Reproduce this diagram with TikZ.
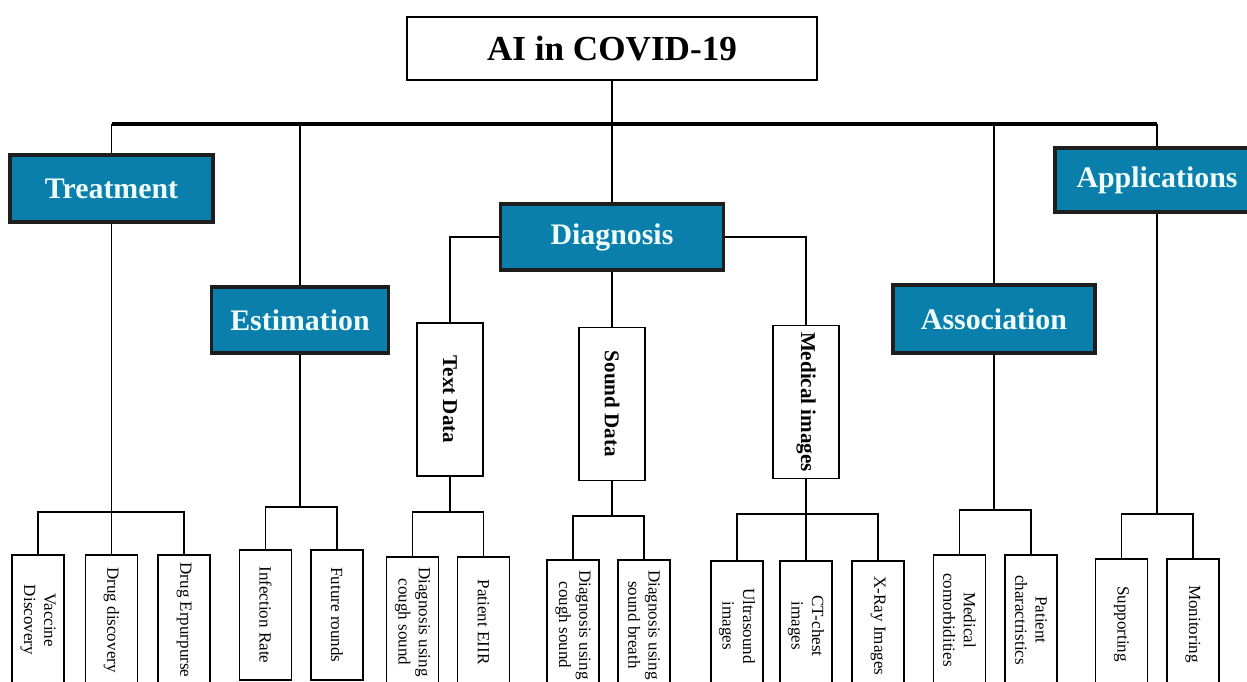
\documentclass[tikz,border=0pt]{standalone}
\usepackage{fontspec}
\setmainfont{Liberation Serif}

\definecolor{boxblue}{HTML}{0B7FAB}
\definecolor{boxline}{HTML}{1E1E1E}
\definecolor{boxtext}{HTML}{EEFCFC}

\tikzset{
  topic/.style={rectangle, draw=boxline, line width=1.8pt, fill=boxblue, text=boxtext, align=center, inner sep=0pt, font=\fontsize{17}{20}\selectfont\bfseries},
  group/.style={rectangle, draw, line width=1pt, rotate=-90, minimum width=3.06cm, minimum height=1.32cm, inner sep=0pt, font=\fontsize{12}{14}\selectfont\bfseries},
  leaf/.style={rectangle, draw, line width=1pt, rotate=-90, minimum width=2.6cm, minimum height=1.04cm, inner sep=0pt, align=center, font=\fontsize{9.7}{11.6}\selectfont},
  link/.style={line width=1.1pt},
  mainbus/.style={line width=1.8pt}
}

\begin{document}
\begin{tikzpicture}[x=0.02cm, y=-0.02cm]
\useasboundingbox (0,0) rectangle (1247,682);

\node (root) [rectangle, draw, line width=1.2pt, minimum width=8.2cm, minimum height=1.26cm, font=\fontsize{20}{24}\selectfont\bfseries] at (612,48.5) {AI in COVID-19};

\node (trt) [topic, minimum width=4.06cm, minimum height=1.34cm] at (111.5,188.5) {Treatment};
\node (est) [topic, minimum width=3.54cm, minimum height=1.32cm] at (300,320) {Estimation};
\node (dia) [topic, minimum width=4.46cm, minimum height=1.32cm] at (612,237) {Diagnosis};
\node (ass) [topic, minimum width=4.04cm, minimum height=1.36cm] at (994,319) {Association};
\node (app) [topic, minimum width=4.08cm, minimum height=1.28cm] at (1157,180) {Applications};

\node (txt) [group] at (450,399.5) {Text Data};
\node (snd) [group] at (612,404) {Sound Data};
\node (med) [group] at (806,402) {Medical images};

% leaves
\node (vac) [leaf] at (38,620) {Vaccine\\Discovery};
\node (drd) [leaf] at (111.5,620) {Drug discovery};
\node (dre) [leaf] at (184,620) {Drug Erpurpurse};

\node (inf) [leaf] at (265.5,615) {Infection Rate};
\node (fut) [leaf] at (337,615) {Future rounds};

\node (tcs) [leaf] at (412.5,622) {Diagnosis using\\cough sound};
\node (eir) [leaf] at (483.5,622) {Patient EIIR};

\node (scs) [leaf] at (573,625) {Diagnosis using\\cough sound};
\node (sbr) [leaf] at (644,625) {Diagnosis using\\sound breath};

\node (uls) [leaf] at (737,626) {Ultrasound\\images};
\node (ctc) [leaf] at (806,626) {CT-chest\\images};
\node (xry) [leaf] at (878,626) {X-Ray Images};

\node (mco) [leaf] at (959.5,620) {Medical\\comorbidities};
\node (pch) [leaf] at (1031,620) {Patient\\charactristics};

\node (sup) [leaf] at (1121.5,624) {Supporting};
\node (mon) [leaf] at (1193,624) {Monitoring};

% connectors
\coordinate (bus) at (612,124);
\draw[link] (root) -- (bus);
\draw[mainbus] (trt.north |- bus) -- (app.north |- bus);
\draw[link] (trt.north |- bus) -- (trt.north);
\draw[link] (est.north |- bus) -- (est.north);
\draw[link] (bus) -- (dia.north);
\draw[link] (ass.north |- bus) -- (ass.north);
\draw[link] (app.north |- bus) -- (app.north);

\coordinate (trtbus) at (111.5,512);
\draw[link] (trt.south) -- (drd.west);
\draw[link] (vac.west) |- (trtbus) -| (dre.west);

\coordinate (estbus) at (300,507);
\draw[link] (est.south) -- (estbus);
\draw[link] (inf.west) |- (estbus) -| (fut.west);

\draw[link] (dia.west) -| (txt.west);
\draw[link] (dia.east) -| (med.west);
\draw[link] (dia.south) -- (snd.west);

\coordinate (txtbus) at (450,512);
\draw[link] (txt.east) -- (txtbus);
\draw[link] (tcs.west) |- (txtbus) -| (eir.west);

\coordinate (sndbus) at (612,516);
\draw[link] (snd.east) -- (sndbus);
\draw[link] (scs.west) |- (sndbus) -| (sbr.west);

\coordinate (medbus) at (806,514);
\draw[link] (med.east) -- (ctc.west);
\draw[link] (uls.west) |- (medbus) -| (xry.west);

\coordinate (assbus) at (994,510);
\draw[link] (ass.south) -- (assbus);
\draw[link] (mco.west) |- (assbus) -| (pch.west);

\coordinate (appbus) at (1157,514);
\draw[link] (app.south) -- (appbus);
\draw[link] (sup.west) |- (appbus) -| (mon.west);

\end{tikzpicture}
\end{document}
